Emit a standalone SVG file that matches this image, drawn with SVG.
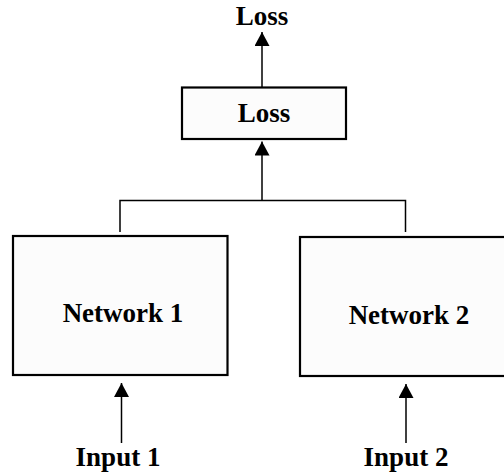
<svg xmlns="http://www.w3.org/2000/svg" width="504" height="474" viewBox="0 0 504 474">
  <defs>
    <marker id="arrow" viewBox="0 0 14 15" refX="14" refY="7.5" markerWidth="14" markerHeight="15" markerUnits="userSpaceOnUse" orient="auto">
      <path d="M0,0 L14,7.5 L0,15 Z" fill="#000"/>
    </marker>
    <style>
      .box { fill: #fcfcfc; stroke: #000; stroke-width: 2.2; }
      .label { font-family: "Liberation Serif", "Times New Roman", serif; font-weight: bold; font-size: 27px; fill: #000; text-anchor: middle; }
      .wire { fill: none; stroke: #000; stroke-width: 1.5; }
      .arrow { fill: none; stroke: #000; stroke-width: 1.5; marker-end: url(#arrow); }
    </style>
  </defs>
  <rect width="504" height="474" fill="#fff"/>

  <!-- connectors -->
  <g id="connectors">
    <path class="arrow" d="M262,87 L262,32"/>
    <path class="arrow" d="M262,200.5 L262,141.5"/>
    <path class="wire" d="M120,232 L120,200.5 L405.5,200.5 L405.5,232"/>
    <path class="arrow" d="M121.5,443 L121.5,383"/>
    <path class="arrow" d="M406,443 L406,384"/>
  </g>

  <g id="loss-output">
    <text class="label" x="262" y="25">Loss</text>
  </g>

  <g id="loss">
    <rect class="box" x="182" y="87.5" width="164" height="51.5"/>
    <text class="label" x="264" y="122">Loss</text>
  </g>

  <g id="network1">
    <rect class="box" x="13" y="236" width="214.5" height="139"/>
    <text class="label" x="123" y="322">Network 1</text>
  </g>

  <g id="network2">
    <rect class="box" x="300" y="237" width="210" height="139"/>
    <text class="label" x="409" y="324">Network 2</text>
  </g>

  <g id="input1">
    <text class="label" x="118" y="466">Input 1</text>
  </g>

  <g id="input2">
    <text class="label" x="406" y="466">Input 2</text>
  </g>
</svg>
